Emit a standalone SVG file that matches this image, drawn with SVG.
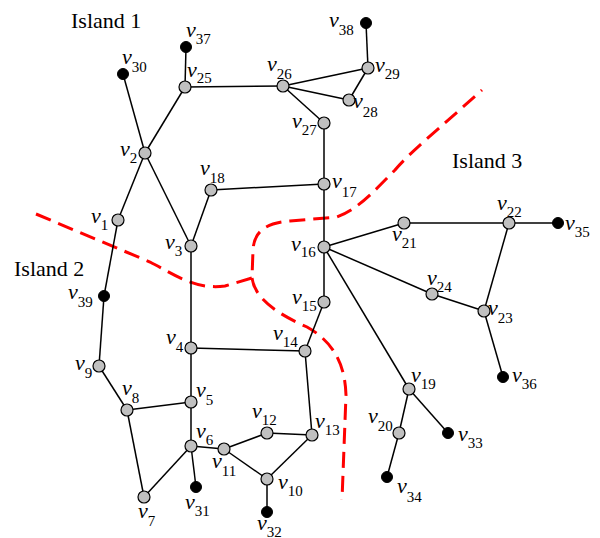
<svg xmlns="http://www.w3.org/2000/svg" width="600" height="538" viewBox="0 0 600 538">
<style>
.e{stroke:#000;stroke-width:1.5;fill:none}
.g{fill:#c0c0c0;stroke:#000;stroke-width:1.2}
.b{fill:#000;stroke:#000;stroke-width:1}
.lab{font-family:"Liberation Serif","Times New Roman",serif;font-size:22px;font-style:italic;fill:#000}
.sub{font-size:15px;font-style:normal}
.isl{font-family:"Liberation Serif","Times New Roman",serif;font-size:22px;fill:#000}
.cut{stroke:#ff0000;stroke-width:3;fill:none;stroke-dasharray:16 8}
</style>
<rect width="600" height="538" fill="#fff"/>
<g id="cuts">
<path class="cut" d="M36,214 L150,262 C175,275 195,290 225,286 L252,278 L253,250 C254,232 265,223 290,221 L337,217 C360,208 375,190 395,170 C410,152 440,128 482,90"/>
<path class="cut" d="M252,278 C255,300 280,315 307,327 C330,340 345,360 346,395 L342,500"/>
</g>
<g id="connectors">
<line class="e" x1="123" y1="74" x2="145" y2="153"/>
<line class="e" x1="145" y1="153" x2="185" y2="87"/>
<line class="e" x1="185" y1="87" x2="186" y2="47"/>
<line class="e" x1="185" y1="87" x2="283" y2="86"/>
<line class="e" x1="283" y1="86" x2="368" y2="68"/>
<line class="e" x1="283" y1="86" x2="349" y2="100"/>
<line class="e" x1="349" y1="100" x2="368" y2="68"/>
<line class="e" x1="368" y1="68" x2="366" y2="23"/>
<line class="e" x1="283" y1="86" x2="324" y2="123"/>
<line class="e" x1="324" y1="123" x2="324" y2="184"/>
<line class="e" x1="324" y1="184" x2="324" y2="247"/>
<line class="e" x1="211" y1="190" x2="324" y2="184"/>
<line class="e" x1="211" y1="190" x2="191" y2="246"/>
<line class="e" x1="145" y1="153" x2="191" y2="246"/>
<line class="e" x1="145" y1="153" x2="118" y2="220"/>
<line class="e" x1="118" y1="220" x2="104" y2="296"/>
<line class="e" x1="104" y1="296" x2="99" y2="366"/>
<line class="e" x1="99" y1="366" x2="127" y2="410"/>
<line class="e" x1="127" y1="410" x2="191" y2="402"/>
<line class="e" x1="127" y1="410" x2="144" y2="497"/>
<line class="e" x1="144" y1="497" x2="191" y2="446"/>
<line class="e" x1="191" y1="246" x2="191" y2="348"/>
<line class="e" x1="191" y1="348" x2="191" y2="402"/>
<line class="e" x1="191" y1="402" x2="191" y2="446"/>
<line class="e" x1="191" y1="446" x2="196" y2="487"/>
<line class="e" x1="191" y1="446" x2="224" y2="449"/>
<line class="e" x1="224" y1="449" x2="267" y2="433"/>
<line class="e" x1="224" y1="449" x2="267" y2="479"/>
<line class="e" x1="267" y1="479" x2="267" y2="512"/>
<line class="e" x1="267" y1="433" x2="312" y2="435"/>
<line class="e" x1="267" y1="479" x2="312" y2="435"/>
<line class="e" x1="312" y1="435" x2="305" y2="351"/>
<line class="e" x1="191" y1="348" x2="305" y2="351"/>
<line class="e" x1="305" y1="351" x2="324" y2="302"/>
<line class="e" x1="324" y1="302" x2="324" y2="247"/>
<line class="e" x1="324" y1="247" x2="404" y2="223"/>
<line class="e" x1="404" y1="223" x2="509" y2="223"/>
<line class="e" x1="509" y1="223" x2="558" y2="223"/>
<line class="e" x1="509" y1="223" x2="484" y2="311"/>
<line class="e" x1="324" y1="247" x2="432" y2="294"/>
<line class="e" x1="432" y1="294" x2="484" y2="311"/>
<line class="e" x1="484" y1="311" x2="503" y2="377"/>
<line class="e" x1="324" y1="247" x2="409" y2="389"/>
<line class="e" x1="409" y1="389" x2="399" y2="433"/>
<line class="e" x1="409" y1="389" x2="448" y2="433"/>
<line class="e" x1="399" y1="433" x2="387" y2="477"/>
</g>
<g id="islands">
<text class="isl" x="71" y="28">Island 1</text>
<text class="isl" x="14" y="276">Island 2</text>
<text class="isl" x="452" y="168">Island 3</text>
</g>
<g id="v1"><circle class="g" cx="118" cy="220" r="6"/><text class="lab" x="91" y="223">v<tspan class="sub" dy="7">1</tspan></text></g>
<g id="v2"><circle class="g" cx="145" cy="153" r="6"/><text class="lab" x="120" y="156">v<tspan class="sub" dy="7">2</tspan></text></g>
<g id="v3"><circle class="g" cx="191" cy="246" r="6"/><text class="lab" x="165" y="249">v<tspan class="sub" dy="7">3</tspan></text></g>
<g id="v4"><circle class="g" cx="191" cy="348" r="6"/><text class="lab" x="166" y="344">v<tspan class="sub" dy="8">4</tspan></text></g>
<g id="v5"><circle class="g" cx="191" cy="402" r="6"/><text class="lab" x="196" y="397">v<tspan class="sub" dy="8">5</tspan></text></g>
<g id="v6"><circle class="g" cx="191" cy="446" r="6"/><text class="lab" x="196" y="438">v<tspan class="sub" dy="7">6</tspan></text></g>
<g id="v7"><circle class="g" cx="144" cy="497" r="6"/><text class="lab" x="138" y="518">v<tspan class="sub" dy="8">7</tspan></text></g>
<g id="v8"><circle class="g" cx="127" cy="410" r="6"/><text class="lab" x="122" y="395">v<tspan class="sub" dy="8">8</tspan></text></g>
<g id="v9"><circle class="g" cx="99" cy="366" r="6"/><text class="lab" x="75" y="370">v<tspan class="sub" dy="8">9</tspan></text></g>
<g id="v10"><circle class="g" cx="267" cy="479" r="6"/><text class="lab" x="278" y="489">v<tspan class="sub" dy="7">10</tspan></text></g>
<g id="v11"><circle class="g" cx="224" cy="449" r="6"/><text class="lab" x="212" y="468">v<tspan class="sub" dy="8">11</tspan></text></g>
<g id="v12"><circle class="g" cx="267" cy="433" r="6"/><text class="lab" x="252" y="418">v<tspan class="sub" dy="7">12</tspan></text></g>
<g id="v13"><circle class="g" cx="312" cy="435" r="6"/><text class="lab" x="315" y="428">v<tspan class="sub" dy="7">13</tspan></text></g>
<g id="v14"><circle class="g" cx="305" cy="351" r="6"/><text class="lab" x="273" y="340">v<tspan class="sub" dy="7">14</tspan></text></g>
<g id="v15"><circle class="g" cx="324" cy="302" r="6"/><text class="lab" x="292" y="304">v<tspan class="sub" dy="7">15</tspan></text></g>
<g id="v16"><circle class="g" cx="324" cy="247" r="6"/><text class="lab" x="291" y="251">v<tspan class="sub" dy="6">16</tspan></text></g>
<g id="v17"><circle class="g" cx="324" cy="184" r="6"/><text class="lab" x="332" y="188">v<tspan class="sub" dy="9">17</tspan></text></g>
<g id="v18"><circle class="g" cx="211" cy="190" r="6"/><text class="lab" x="200" y="175">v<tspan class="sub" dy="8">18</tspan></text></g>
<g id="v19"><circle class="g" cx="409" cy="389" r="6"/><text class="lab" x="411" y="382">v<tspan class="sub" dy="7">19</tspan></text></g>
<g id="v20"><circle class="g" cx="399" cy="433" r="6"/><text class="lab" x="368" y="423">v<tspan class="sub" dy="8">20</tspan></text></g>
<g id="v21"><circle class="g" cx="404" cy="223" r="6"/><text class="lab" x="392" y="241">v<tspan class="sub" dy="7">21</tspan></text></g>
<g id="v22"><circle class="g" cx="509" cy="223" r="6"/><text class="lab" x="497" y="210">v<tspan class="sub" dy="7">22</tspan></text></g>
<g id="v23"><circle class="g" cx="484" cy="311" r="6"/><text class="lab" x="488" y="315">v<tspan class="sub" dy="8">23</tspan></text></g>
<g id="v24"><circle class="g" cx="432" cy="294" r="6"/><text class="lab" x="427" y="285">v<tspan class="sub" dy="7">24</tspan></text></g>
<g id="v25"><circle class="g" cx="185" cy="87" r="6"/><text class="lab" x="187" y="77">v<tspan class="sub" dy="6">25</tspan></text></g>
<g id="v26"><circle class="g" cx="283" cy="86" r="6"/><text class="lab" x="267" y="71">v<tspan class="sub" dy="8">26</tspan></text></g>
<g id="v27"><circle class="g" cx="324" cy="123" r="6"/><text class="lab" x="292" y="128">v<tspan class="sub" dy="7">27</tspan></text></g>
<g id="v28"><circle class="g" cx="349" cy="100" r="6"/><text class="lab" x="353" y="108">v<tspan class="sub" dy="9">28</tspan></text></g>
<g id="v29"><circle class="g" cx="368" cy="68" r="6"/><text class="lab" x="375" y="72">v<tspan class="sub" dy="7">29</tspan></text></g>
<g id="v30"><circle class="b" cx="123" cy="74" r="5.5"/><text class="lab" x="122" y="64">v<tspan class="sub" dy="8">30</tspan></text></g>
<g id="v31"><circle class="b" cx="196" cy="487" r="5.5"/><text class="lab" x="185" y="509">v<tspan class="sub" dy="7">31</tspan></text></g>
<g id="v32"><circle class="b" cx="267" cy="512" r="5.5"/><text class="lab" x="257" y="530">v<tspan class="sub" dy="7">32</tspan></text></g>
<g id="v33"><circle class="b" cx="448" cy="433" r="5.5"/><text class="lab" x="458" y="441">v<tspan class="sub" dy="7">33</tspan></text></g>
<g id="v34"><circle class="b" cx="387" cy="477" r="5.5"/><text class="lab" x="397" y="493">v<tspan class="sub" dy="9">34</tspan></text></g>
<g id="v35"><circle class="b" cx="558" cy="223" r="5.5"/><text class="lab" x="565" y="230">v<tspan class="sub" dy="7">35</tspan></text></g>
<g id="v36"><circle class="b" cx="503" cy="377" r="5.5"/><text class="lab" x="512" y="382">v<tspan class="sub" dy="7">36</tspan></text></g>
<g id="v37"><circle class="b" cx="186" cy="47" r="5.5"/><text class="lab" x="186" y="37">v<tspan class="sub" dy="7">37</tspan></text></g>
<g id="v38"><circle class="b" cx="366" cy="23" r="5.5"/><text class="lab" x="329" y="27">v<tspan class="sub" dy="8">38</tspan></text></g>
<g id="v39"><circle class="b" cx="104" cy="296" r="5.5"/><text class="lab" x="68" y="299">v<tspan class="sub" dy="8">39</tspan></text></g>
</svg>
